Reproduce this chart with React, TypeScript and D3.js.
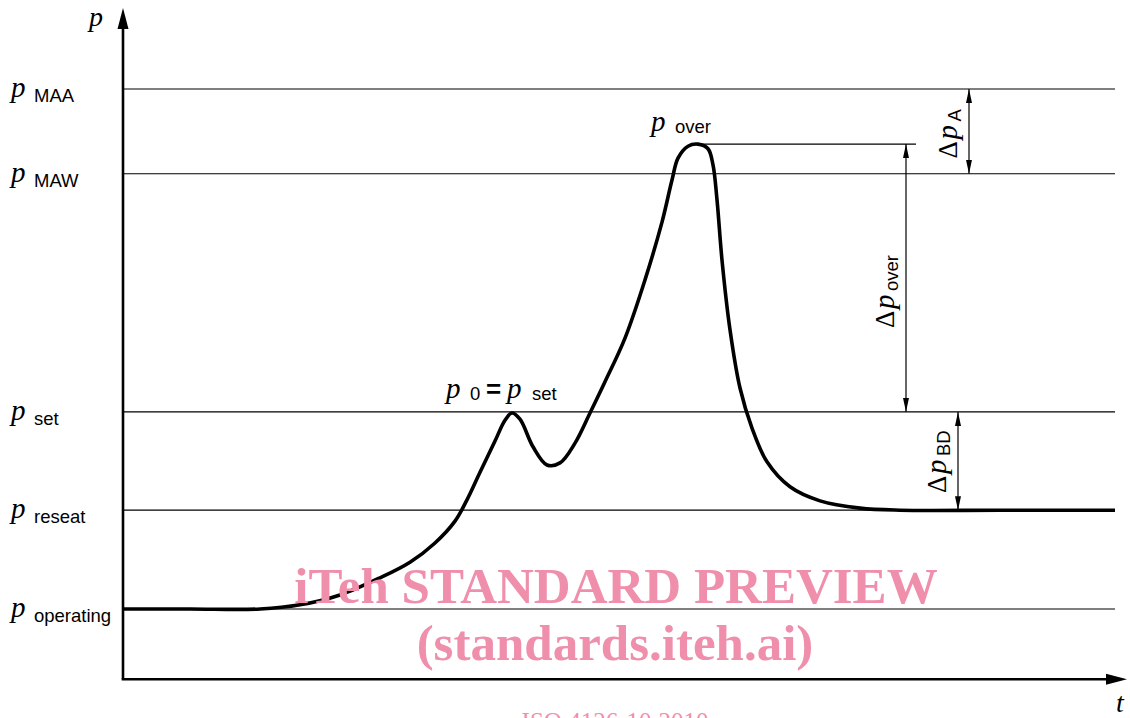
import React from "react";
import * as d3 from "d3";

// Pressure levels (arbitrary units, operating = 0, MAA = 100)
const levelNames = ["MAA", "MAW", "set", "reseat", "operating"];
const levelValues = [100, 83.7, 37.9, 19.0, 0];

// Pressure curve p(t): time (0..100) and pressure values
const curveT = [0, 6.7, 13.7, 17.7, 21.7, 25.7, 28.7, 31.2, 33.2, 34.4, 35.7, 37.2, 38.2, 38.9, 39.7, 41.0, 42.4, 43.7, 45.2, 46.7, 48.2, 50.2, 52.2, 53.9, 54.9, 55.5, 56.5, 57.5, 58.5, 59.0, 59.4, 59.9, 60.7, 61.7, 62.9, 64.4, 66.7, 69.7, 73.7, 77.7, 87.7, 99.2];
const curveP = [0, 0, 0, 0.8, 2.7, 6.0, 9.0, 12.7, 16.9, 21.0, 26.3, 32.3, 36.3, 37.7, 36.5, 31.2, 27.7, 28.1, 31.9, 37.7, 43.7, 52.1, 63.3, 74.4, 82.5, 86.7, 89.0, 89.4, 88.5, 85.4, 78.7, 67.1, 53.7, 42.5, 34.8, 28.3, 23.5, 20.8, 19.4, 19.0, 19.0, 19.0];

const pOver = 89.4;
const overLineT = [57.4, 79.3];
const dimOverT = 78.3;
const dimAT = 84.6;
const dimBDT = 83.5;

const W = 1130;
const H = 718;

export default function App() {
  const x = d3.scaleLinear().domain([0, 100]).range([123, 1123]);
  const y = d3.scaleLinear().domain([0, 100]).range([609, 89]);

  const pts: [number, number][] = curveT.map((t, i) => [t, curveP[i]]);
  const line = d3
    .line<[number, number]>()
    .x((d) => x(d[0]))
    .y((d) => y(d[1]))
    .curve(d3.curveCatmullRom.alpha(0.5));

  const axisX = x(0);
  const axisBottom = y(-13.5);
  const axisTop = y(115.6);
  const axisRight = x(100.4);
  const refRight = x(99.2);

  const serif = "'Liberation Serif', 'Times New Roman', serif";
  const sans = "'Liberation Sans', Arial, sans-serif";
  const pink = "rgb(239,143,171)";
  const subSize = 18.5;

  const level = (n: string) => levelValues[levelNames.indexOf(n)];

  const dim = (xx: number, y1: number, y2: number) => (
    <line x1={xx} x2={xx} y1={y1} y2={y2} stroke="#000" strokeWidth={1.2} markerStart="url(#ah)" markerEnd="url(#ah)" />
  );

  return (
    <svg width={W} height={H} style={{ display: "block", position: "absolute", left: 0, top: 0, background: "#fff" }}>
      <defs>
        <marker id="ah" viewBox="0 0 14 6" refX={14} refY={3} markerWidth={14} markerHeight={6} markerUnits="userSpaceOnUse" orient="auto-start-reverse">
          <path d="M0,0 L14,3 L0,6 Z" fill="#000" />
        </marker>
      </defs>
      <rect x={0} y={0} width={W} height={H} fill="#fff" />

      {/* reference level lines */}
      {levelValues.map((v, i) => (
        <line key={i} x1={axisX} x2={refRight} y1={y(v)} y2={y(v)} stroke="#000" strokeWidth={1.2} />
      ))}

      {/* p_over line */}
      <line x1={x(overLineT[0])} x2={x(overLineT[1])} y1={y(pOver)} y2={y(pOver)} stroke="#000" strokeWidth={1.2} />

      {/* dimension arrows */}
      {dim(x(dimOverT), y(pOver), y(level("set")))}
      {dim(x(dimAT), y(level("MAA")), y(level("MAW")))}
      {dim(x(dimBDT), y(level("set")), y(level("reseat")))}

      {/* curve */}
      <path d={line(pts) || ""} fill="none" stroke="#000" strokeWidth={3.6} strokeLinejoin="round" />

      {/* axes */}
      <line x1={axisX} x2={axisX} y1={axisBottom} y2={axisTop + 18} stroke="#000" strokeWidth={2.6} />
      <path d={`M${axisX},${axisTop} L${axisX - 5.5},${axisTop + 21} L${axisX + 5.5},${axisTop + 21} Z`} fill="#000" />
      <line x1={axisX - 1.3} x2={axisRight - 18} y1={axisBottom} y2={axisBottom} stroke="#000" strokeWidth={2.6} />
      <path d={`M${axisRight},${axisBottom} L${axisRight - 21},${axisBottom - 5.5} L${axisRight - 21},${axisBottom + 5.5} Z`} fill="#000" />

      {/* axis labels */}
      <text x={89} y={26} fontFamily={serif} fontStyle="italic" fontSize={28}>p</text>
      <text x={1116} y={712} fontFamily={serif} fontStyle="italic" fontSize={28}>t</text>

      {/* level labels */}
      {levelNames.map((n, i) => (
        <g key={n}>
          <text x={11} y={y(levelValues[i]) + 8} fontFamily={serif} fontStyle="italic" fontSize={29}>p</text>
          <text x={34} y={y(levelValues[i]) + 13} fontFamily={sans} fontSize={subSize}>{n}</text>
        </g>
      ))}

      {/* p_over label */}
      <text x={651} y={y(pOver) - 13} fontFamily={serif} fontStyle="italic" fontSize={29}>p</text>
      <text x={675} y={y(pOver) - 11} fontFamily={sans} fontSize={subSize}>over</text>

      {/* p0 = pset label */}
      <text x={446} y={y(level("set")) - 14} fontFamily={serif} fontStyle="italic" fontSize={29}>p</text>
      <text x={470} y={y(level("set")) - 12} fontFamily={sans} fontSize={subSize}>0</text>
      <text x={486} y={y(level("set")) - 14} fontFamily={sans} fontSize={26} fontWeight="bold">=</text>
      <text x={507} y={y(level("set")) - 14} fontFamily={serif} fontStyle="italic" fontSize={29}>p</text>
      <text x={532} y={y(level("set")) - 12} fontFamily={sans} fontSize={subSize}>set</text>

      {/* rotated dimension labels */}
      <g transform={`translate(${x(dimOverT) - 12},${(y(pOver) + y(level("set"))) / 2 + 50}) rotate(-90)`}>
        <text x={0} y={0} fontFamily={serif} fontSize={27}>Δ</text>
        <text x={19} y={0} fontFamily={serif} fontStyle="italic" fontSize={29}>p</text>
        <text x={37} y={4} fontFamily={sans} fontSize={subSize}>over</text>
      </g>
      <g transform={`translate(${x(dimAT) - 12},${(y(level("MAA")) + y(level("MAW"))) / 2 + 27}) rotate(-90)`}>
        <text x={0} y={0} fontFamily={serif} fontSize={27}>Δ</text>
        <text x={19} y={0} fontFamily={serif} fontStyle="italic" fontSize={29}>p</text>
        <text x={37} y={4} fontFamily={sans} fontSize={subSize}>A</text>
      </g>
      <g transform={`translate(${x(dimBDT) - 12},${(y(level("set")) + y(level("reseat"))) / 2 + 32}) rotate(-90)`}>
        <text x={0} y={0} fontFamily={serif} fontSize={27}>Δ</text>
        <text x={19} y={0} fontFamily={serif} fontStyle="italic" fontSize={29}>p</text>
        <text x={37} y={4} fontFamily={sans} fontSize={subSize}>BD</text>
      </g>

      {/* watermark */}
      <text x={616} y={603} textAnchor="middle" fontFamily={serif} fontWeight="bold" fontSize={51} fill={pink}>iTeh STANDARD PREVIEW</text>
      <text x={615} y={660} textAnchor="middle" fontFamily={serif} fontWeight="bold" fontSize={51} fill={pink}>(standards.iteh.ai)</text>
      <text x={615} y={730} textAnchor="middle" fontFamily={serif} fontSize={25} fill={pink}>ISO 4126-10:2010</text>
    </svg>
  );
}
